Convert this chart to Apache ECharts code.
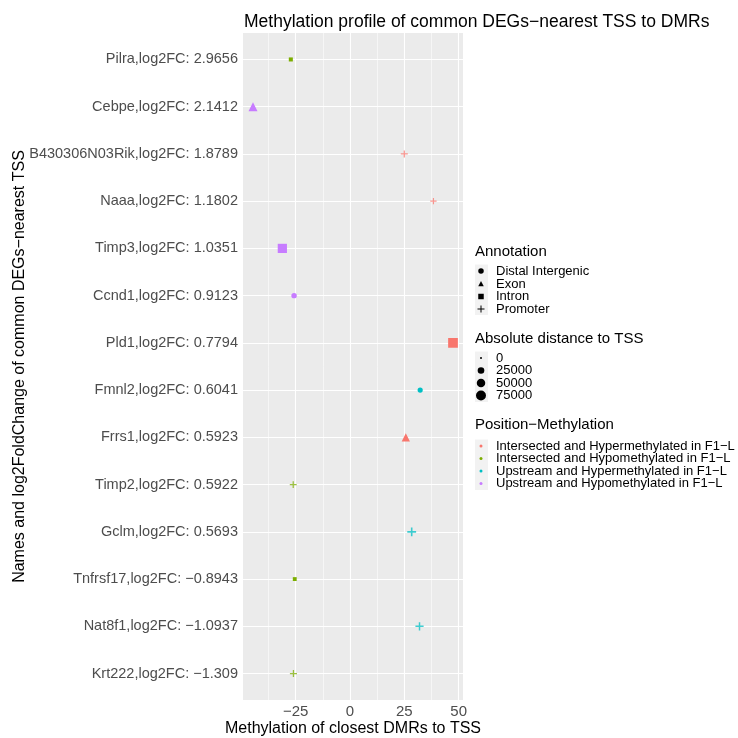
<!DOCTYPE html>
<html>
<head>
<meta charset="utf-8">
<script src="https://cdn.jsdelivr.net/npm/echarts@6/dist/echarts.min.js"></script>
<style>html,body{margin:0;padding:0;background:#fff}#c{width:738px;height:738px}</style>
</head>
<body>
<div id="c"></div>
<script>
// ---- data ----
var genes = ['Pilra','Cebpe','B430306N03Rik','Naaa','Timp3','Ccnd1','Pld1','Fmnl2','Frrs1','Timp2','Gclm','Tnfrsf17','Nat8f1','Krt222'];
var log2FC = ['2.9656','2.1412','1.8789','1.1802','1.0351','0.9123','0.7794','0.6041','0.5923','0.5922','0.5693','-0.8943','-1.0937','-1.309'];
var methylation = [-27.2, -44.6, 25.0, 38.4, -31.1, -25.7, 47.4, 32.3, 25.7, -26.1, 28.4, -25.4, 32.0, -26.0];
var annotation = ['Intron','Exon','Promoter','Promoter','Intron','Distal Intergenic','Intron','Distal Intergenic','Exon','Promoter','Promoter','Intron','Promoter','Promoter'];
var distance = [6000, 45000, 30000, 22000, 70000, 14000, 80000, 12000, 36000, 28000, 55000, 5000, 45000, 30000];
var posMeth = [1, 3, 0, 0, 3, 3, 0, 2, 0, 1, 2, 1, 2, 1];
var annotationLevels = ['Distal Intergenic','Exon','Intron','Promoter'];
var sizeLevels = [0, 25000, 50000, 75000];
var groupLevels = ['Intersected and Hypermethylated in F1\u2212L','Intersected and Hypomethylated in F1\u2212L','Upstream and Hypermethylated in F1\u2212L','Upstream and Hypomethylated in F1\u2212L'];
var groupColors = ['#F8766D','#7CAE00','#00BFC4','#C77CFF'];
var xTicks = [-25, 0, 25, 50];
var xMinor = [-37.5, -12.5, 12.5, 37.5];

// ---- helpers ----
function mm(s){ return String(s).replace(/-/g,'\u2212'); }
var yLabels = genes.map(function(g,i){ return g + ',log2FC: ' + mm(log2FC[i]); });
var yIdx = genes.map(function(g,i){ return i; });
function sz(d){ return 2 + 8.5*Math.sqrt(d/85000); }
var CROSS = 'path://M4.1,0H5.9V4.1H10V5.9H5.9V10H4.1V5.9H0V4.1H4.1Z';
var shapeMap = {'Distal Intergenic':'circle','Exon':'triangle','Intron':'rect','Promoter':CROSS};
var scaleMap = {'Distal Intergenic':1,'Exon':1.1,'Intron':0.95,'Promoter':1.0};

var series = [];
// grid lines via markLine
var gl = [];
yIdx.forEach(function(i){ gl.push({yAxis:i, lineStyle:{width:1.1}}); });
xTicks.forEach(function(v){ gl.push({xAxis:v, lineStyle:{width:1.1}}); });
xMinor.forEach(function(v){ gl.push({xAxis:v, lineStyle:{width:0.55}}); });
series.push({type:'line', data:[], z:1, silent:true,
  markLine:{z:1, silent:true, symbol:['none','none'], label:{show:false}, animation:false,
    lineStyle:{color:'#ffffff', type:'solid'}, emphasis:{disabled:true}, data:gl}});

annotationLevels.forEach(function(a){
  var d = [];
  genes.forEach(function(g,i){
    if (annotation[i] === a) {
      d.push({value:[methylation[i], i, distance[i]], itemStyle:{color:groupColors[posMeth[i]], opacity: a==='Promoter'?0.75:1}});
    }
  });
  series.push({type:'scatter', name:a, z:10, symbol:shapeMap[a], data:d, animation:false,
    symbolSize:function(v){ return sz(v[2])*scaleMap[a]; }, emphasis:{disabled:true}});
});

// ---- legend graphics ----
var FONT = 'Liberation Sans, Arial, sans-serif';
var gfx = [];
var kx = 481, tx = 496;
function keyBg(y0, n){
  gfx.push({type:'rect', shape:{x:475, y:y0-6.5, width:13, height:12.5*n+0.5}, style:{fill:'#F2F2F2'}, silent:true});
}
function title(t, y){
  gfx.push({type:'text', x:475, y:y, style:{text:t, font:'15px '+FONT, fill:'#000', textVerticalAlign:'middle'}});
}
function label(t, y){
  gfx.push({type:'text', x:tx, y:y, style:{text:t, font:'13px '+FONT, fill:'#000', textVerticalAlign:'middle'}});
}
function shape(type, cx, cy, s, color){
  if (type==='circle') gfx.push({type:'circle', shape:{cx:cx, cy:cy, r:s/2}, style:{fill:color}});
  else if (type==='triangle') gfx.push({type:'polygon', shape:{points:[[cx,cy-s*0.55],[cx+s*0.5,cy+s*0.4],[cx-s*0.5,cy+s*0.4]]}, style:{fill:color}});
  else if (type==='rect') gfx.push({type:'rect', shape:{x:cx-s/2, y:cy-s/2, width:s, height:s}, style:{fill:color}});
  else {
    gfx.push({type:'rect', shape:{x:cx-s/2, y:cy-0.5, width:s, height:1}, style:{fill:color}});
    gfx.push({type:'rect', shape:{x:cx-0.5, y:cy-s/2, width:1, height:s}, style:{fill:color}});
  }
}
// Annotation
title('Annotation', 252);
var ay = [271, 284, 296.5, 309];
keyBg(ay[0], 4);
annotationLevels.forEach(function(a,i){
  var t = shapeMap[a]===CROSS ? 'cross' : shapeMap[a];
  shape(t, kx, ay[i], t==='cross'?7:5.5, '#000');
  label(a, ay[i]);
});
// Size
title('Absolute distance to TSS', 339);
var sy = [358, 370.5, 383, 395.5];
keyBg(sy[0], 4);
sizeLevels.forEach(function(v,i){
  shape('circle', kx, sy[i], sz(v), '#000');
  label(String(v), sy[i]);
});
// Position-Methylation
title('Position\u2212Methylation', 425);
var py = [446, 458.5, 471, 483.5];
keyBg(py[0], 4);
groupLevels.forEach(function(g,i){
  shape('circle', kx, py[i], 3, groupColors[i]);
  label(g, py[i]);
});

var option = {
  animation:false,
  backgroundColor:'#ffffff',
  textStyle:{fontFamily:FONT},
  title:{text:'Methylation profile of common DEGs\u2212nearest TSS to DMRs', left:239, top:8,
    textStyle:{fontSize:17.5, fontWeight:'normal', color:'#000', fontFamily:FONT}},
  grid:{left:243, right:275, top:33, bottom:38, show:true, backgroundColor:'#EBEBEB', borderWidth:0,
    containLabel:false, outerBoundsMode:'none'},
  xAxis:{type:'value', min:-49.2, max:52.0,
    name:'Methylation of closest DMRs to TSS', nameLocation:'middle', nameGap:21, nameMoveOverlap:false,
    nameTextStyle:{fontSize:16, color:'#000', fontFamily:FONT},
    axisLine:{show:false}, splitLine:{show:false},
    axisTick:{show:true, length:3, customValues:xTicks, lineStyle:{color:'#333333', width:1}},
    axisLabel:{customValues:xTicks, fontSize:15, color:'#4D4D4D', margin:4, fontFamily:FONT,
      formatter:function(v){ return mm(v); }}},
  yAxis:{type:'value', min:-0.56, max:13.56, inverse:true,
    name:'Names and log2FoldChange of common DEGs\u2212nearest TSS', nameLocation:'middle', nameGap:215, nameRotate:90, nameMoveOverlap:false,
    nameTextStyle:{fontSize:16, color:'#000', fontFamily:FONT},
    axisLine:{show:false}, splitLine:{show:false},
    axisTick:{show:true, length:3, customValues:yIdx, lineStyle:{color:'#333333', width:1}},
    axisLabel:{customValues:yIdx, fontSize:14.5, color:'#4D4D4D', margin:5, fontFamily:FONT,
      formatter:function(v){ return yLabels[Math.round(v)] || ''; }}},
  series:series,
  graphic:gfx
};
var chart = echarts.init(document.getElementById('c'), null, {renderer:'canvas'});
chart.setOption(option);
</script>
</body>
</html>
